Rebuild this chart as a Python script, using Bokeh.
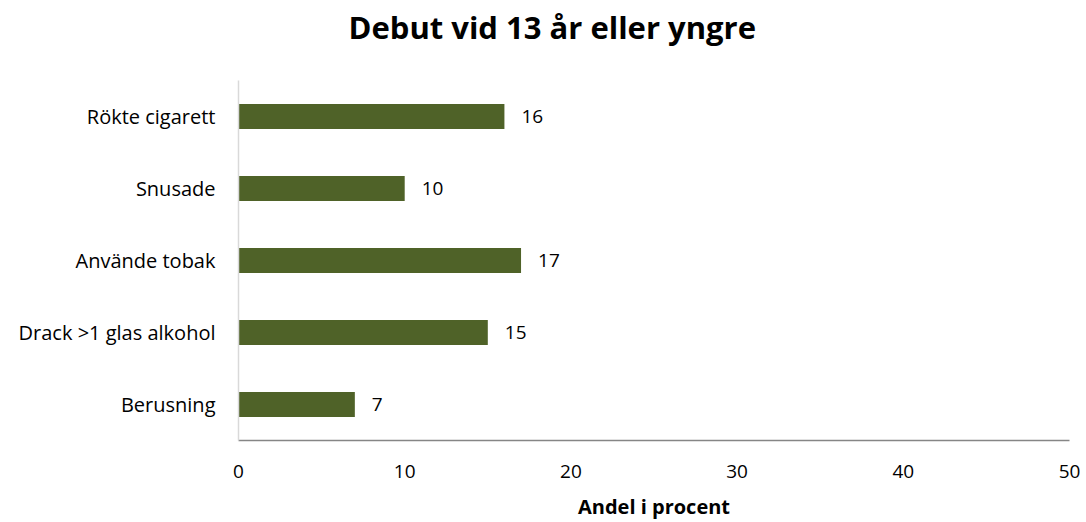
from bokeh.plotting import figure
from bokeh.models import ColumnDataSource, FactorRange, Range1d, FixedTicker, LabelSet, Title
from bokeh.core.properties import value
from bokeh.embed import file_html
from bokeh.resources import INLINE

categories = ["Rökte cigarett", "Snusade", "Använde tobak", "Drack >1 glas alkohol", "Berusning"]
values = [16, 10, 17, 15, 7]
x_ticks = [0, 10, 20, 30, 40, 50]
title_text = "Debut vid 13 år eller yngre"
x_label = "Andel i procent"

FONT = "Open Sans"

src = ColumnDataSource(dict(cat=categories, val=values, lbl=[str(v) for v in values]))

p = figure(width=1080, height=522, output_backend="svg", toolbar_location=None,
           y_range=FactorRange(factors=categories[::-1]), x_range=Range1d(0, 50),
           min_border_left=238, min_border_right=11, min_border_top=80, min_border_bottom=0)
p.title = None
p.outline_line_color = None
p.xgrid.grid_line_color = None
p.ygrid.grid_line_color = None

p.hbar(y="cat", right="val", left=0, height=0.35, source=src, fill_color="#4F6228", line_color=None)

labels = LabelSet(x="val", y="cat", text="lbl", source=src, x_offset=17, text_baseline="middle",
                  text_font=value(FONT), text_font_size="19px", text_color="#000000")
p.add_layout(labels)

xa = p.xaxis[0]
xa.ticker = FixedTicker(ticks=x_ticks)
xa.axis_line_color = "#868686"
xa.axis_line_width = 1.5
xa.major_tick_line_color = None
xa.minor_tick_line_color = None
xa.major_label_standoff = 18
xa.major_label_text_font = FONT
xa.major_label_text_font_size = "19px"
xa.major_label_text_color = "#000000"
xa.axis_label = x_label
xa.axis_label_text_font = FONT
xa.axis_label_text_font_size = "20px"
xa.axis_label_text_font_style = "bold"
xa.axis_label_text_color = "#000000"
xa.axis_label_standoff = 12

ya = p.yaxis[0]
ya.axis_line_color = "#D9D9D9"
ya.axis_line_width = 1.5
ya.major_tick_line_color = None
ya.minor_tick_line_color = None
ya.major_label_standoff = 17
ya.major_label_text_font = FONT
ya.major_label_text_font_size = "20px"
ya.major_label_text_color = "#000000"

# spacer between the frame and the title (first added sits closest to the frame)
spacer = Title(text=" ", text_font=FONT, text_font_size="1px", standoff=28)
p.add_layout(spacer, "above")

t = Title(text=title_text, align="left", vertical_align="top", text_font=FONT, text_font_size="31px",
          text_font_style="bold", text_color="#000000", offset=110, standoff=0)
p.add_layout(t, "above")

open("out.html", "w").write(file_html(p, INLINE))
